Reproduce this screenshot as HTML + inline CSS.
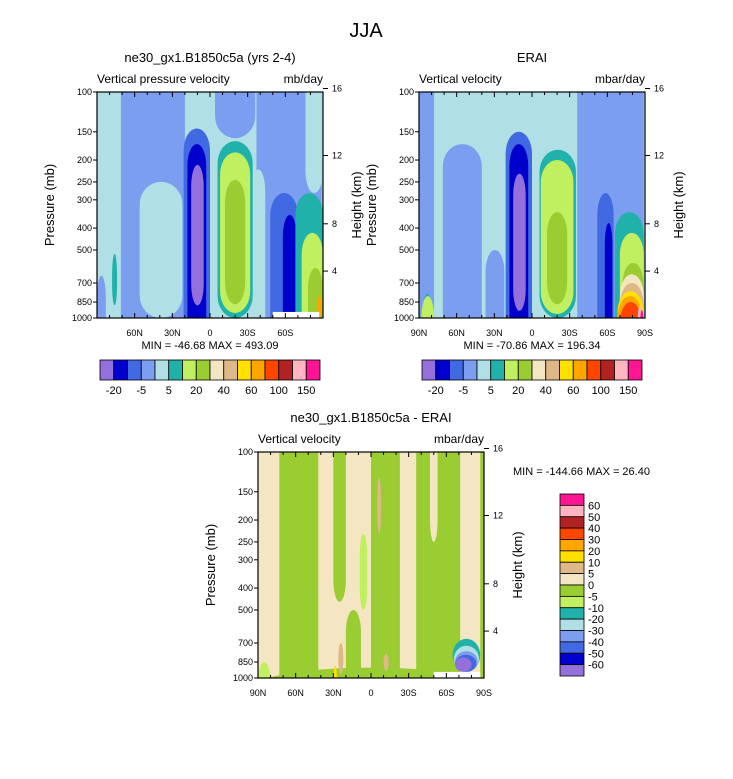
<!DOCTYPE html>
<html><head><meta charset="utf-8">
<style>
body{margin:0;background:#fff;}
svg text{font-family:"Liberation Sans",sans-serif;fill:#000;}
</style></head>
<body>
<svg id="fig" width="733" height="774" viewBox="0 0 733 774" xmlns="http://www.w3.org/2000/svg">
<text x="366" y="37" font-size="20" text-anchor="middle">JJA</text>
<g id="p1"></g>
<g id="p2"></g>
<g id="p3"></g>
</svg>
<script>
// colour palettes (level index -> colour)
const fullColors = ["#9370db","#0000cd","#4169e1","#7b9ef0","#b0e0e6","#20b2aa","#c0f060","#9acd32","#f5e6c3","#deb887","#ffe000","#ffa500","#ff4500","#b22222","#ffb6c1","#ff1493"];
const topCbLabels = ["-20","-5","5","20","40","60","100","150"];
const diffCbLabels = ["60","50","40","30","20","10","5","0","-5","-10","-20","-30","-40","-50","-60"];
const pTicks = [100,150,200,250,300,400,500,700,850,1000];
const hTicks = [16,12,8,4];
const hTickP = [96.5,191,383,620]; // pressure at each height tick
const latTicks = [90,60,30,0,-30,-60,-90];
const latTickLabels = ["90N","60N","30N","0","30S","60S","90S"];

// features: lat north, lat south, top pressure, bottom pressure, level
const m_lat1 = [71,56,64,78,90, 21,18,15, -4,-37,-76,-33, -6,-8,-12, -48,-58, -68,-73,-78,-85,-50];
const m_lat2 = [20,22,60,74,83, 0,3,5, -36,-89,-90,-44, -34,-32,-28, -70,-69, -90,-90,-90,-89,-87];
const m_ptop = [60,250,350,520,650, 145,170,210, 60,60,60,220, 165,185,245, 280,350, 280,420,600,800,940];
const m_pbot = [1300,1000,900,880,1300, 1300,1300,880, 160,1300,280,1300, 1000,950,870, 1300,1300, 1300,1300,1300,1000,1300];
const m_lev = [3,4,3,5,3, 2,1,0, 3,3,4,4, 5,6,7, 2,1, 5,6,7,11,-1];

const e_lat1 = [90,71,37, 21,18,15, -6,-7,-12, -36,-52,-58, -66,-70,-72,-70,-70,-68,-68,-70,-84,-86, 87,88];
const e_lat2 = [78,40,22, 0,3,5, -35,-33,-28, -89,-65,-64, -89,-89,-89,-89,-89,-89,-88,-87,-88,-89, 80,78];
const e_ptop = [60,170,500, 150,170,230, 180,200,340, 60,280,380, 340,420,570,640,700,760,800,850,880,920, 780,800];
const e_pbot = [1300,1300,1300, 1300,1300,930, 1000,960,870, 1300,1300,1300, 1300,1300,1300,1300,1300,1300,1300,1300,1300,1300, 1300,1300];
const e_lev = [3,3,3, 2,1,0, 5,6,7, 3,2,1, 5,6,7,8,9,10,11,12,14,15, 5,6];

const d_lat1 = [73,30,20,0,-36,-47,-87,90,90, -5,26,-10,30,9, -65,-66,-67,-67,-67,-50];
const d_lat2 = [42,20,8,-23,-71,-53,-90,-90,80, -8,22,-14,27,3, -87,-86,-85,-84,-80,-87];
const d_ptop = [60,60,500,60,60,60,60,900,850, 130,700,780,880,230, 670,720,760,790,810,940];
const d_pbot = [1300,460,1300,1300,1300,250,1300,1300,1300, 230,960,930,1300,500, 940,940,940,940,940,1300];
const d_lev = [7,7,7,7,7,8,7,7,6, 9,9,9,10,6, 5,4,3,2,0,-1];

const NS = "http://www.w3.org/2000/svg";
function mk(parent, tag, attrs){const e=document.createElementNS(NS,tag);for(const k in attrs)e.setAttribute(k,attrs[k]);parent.appendChild(e);return e;}

function panel(g, o){
  const x0=o.x0,x1=o.x1,y0=o.y0,y1=o.y1;
  const xs = lat => x0 + (90-lat)/180*(x1-x0);
  const ys = p => y0 + Math.log(p/100)/Math.log(10)*(y1-y0);
  const cid = "clip"+o.id;
  const cp = mk(g,"clipPath",{id:cid});
  mk(cp,"rect",{x:x0,y:y0,width:x1-x0,height:y1-y0});
  const plot = mk(g,"g",{"clip-path":"url(#"+cid+")"});
  
  
  const bg = mk(plot,"rect",{x:x0,y:y0,width:x1-x0,height:y1-y0,fill:o.base});
  
  
  for(let i=0;i<o.lev.length;i++){
    const xa=xs(o.lat1[i]), xb=xs(o.lat2[i]), ya=ys(o.ptop[i]), yb=ys(o.pbot[i]);
    const w=xb-xa, h=yb-ya;
    const col = o.lev[i]<0 ? "#ffffff" : fullColors[o.lev[i]];
    const r = mk(plot,"rect",{x:xa,y:ya,width:w,height:h,rx:o.lev[i]<0?0:w/2,ry:o.lev[i]<0?0:Math.min(h/2,22),fill:col});
    
    
  }
  mk(g,"rect",{x:x0,y:y0,width:x1-x0,height:y1-y0,fill:"none",stroke:"#000","stroke-width":1.2});
  for(let l=-90;l<=90;l+=10){
    const x=xs(l), len = (l%30===0)?5:3;
    mk(g,"line",{x1:x,x2:x,y1:y0,y2:y0+len,stroke:"#000"});
    mk(g,"line",{x1:x,x2:x,y1:y1,y2:y1-len,stroke:"#000"});
  }
  for(let i=0;i<latTicks.length;i++){
    if(!o.showEnds && (i===0||i===latTicks.length-1)) continue;
    const t=mk(g,"text",{x:xs(latTicks[i]),y:y1+18,"font-size":9,"text-anchor":"middle"});
    t.textContent=latTickLabels[i];
    
    
  }
  for(const p of pTicks){
    const y=ys(p);
    mk(g,"line",{x1:x0-4,x2:x0,y1:y,y2:y,stroke:"#000"});
    const t=mk(g,"text",{x:x0-5,y:y+3,"font-size":9,"text-anchor":"end"});
    t.textContent=p;
    
    
  }
  for(let i=0;i<hTicks.length;i++){
    const y=ys(hTickP[i]);
    mk(g,"line",{x1:x1,x2:x1+5,y1:y,y2:y,stroke:"#000"});
    const t=mk(g,"text",{x:x1+9,y:y+3,"font-size":9});
    t.textContent=hTicks[i];
    
    
  }
  const cy=(y0+y1)/2;
  let t=mk(g,"text",{x:0,y:0,"font-size":13,"text-anchor":"middle",transform:`translate(${x0-43},${cy}) rotate(-90)`});
  t.textContent="Pressure (mb)";
  
  
  t=mk(g,"text",{x:0,y:0,"font-size":13,"text-anchor":"middle",transform:`translate(${x1+38},${cy}) rotate(-90)`});
  t.textContent="Height (km)";
  
  
  t=mk(g,"text",{x:(x0+x1)/2,y:y0-30,"font-size":13,"text-anchor":"middle"});
  t.textContent=o.title;
  
  
  t=mk(g,"text",{x:x0,y:y0-9,"font-size":12});
  t.textContent=o.left;
  
  
  t=mk(g,"text",{x:x1,y:y0-9,"font-size":12,"text-anchor":"end"});
  t.textContent=o.units;
  
  
  t=mk(g,"text",{x:o.mmx,y:o.mmy,"font-size":11,"text-anchor":o.mmAnchor});
  t.textContent=o.minmax;
  
  
}

function hbar(g,x0,y0,w,h){
  const n=fullColors.length, bw=w/n;
  for(let i=0;i<n;i++){
    const r=mk(g,"rect",{x:x0+i*bw,y:y0,width:bw,height:h,fill:fullColors[i],stroke:"#000","stroke-width":0.8});
    
    
  }
  for(let i=0;i<topCbLabels.length;i++){
    const t=mk(g,"text",{x:x0+(i+0.5)*w/topCbLabels.length,y:y0+h+14,"font-size":11,"text-anchor":"middle"});
    t.textContent=topCbLabels[i];
    
    
  }
}
function vbar(g,x0,y0,w,h){
  const n=fullColors.length, bh=h/n;
  for(let i=0;i<n;i++){
    const r=mk(g,"rect",{x:x0,y:y0+i*bh,width:w,height:bh,fill:fullColors[n-1-i],stroke:"#000","stroke-width":0.8});
    
    
  }
  for(let i=0;i<diffCbLabels.length;i++){
    const t=mk(g,"text",{x:x0+w+4,y:y0+(i+1)*bh+4,"font-size":11});
    t.textContent=diffCbLabels[i];
    
    
  }
}

const g1=document.getElementById("p1"), g2=document.getElementById("p2"), g3=document.getElementById("p3");
panel(g1,{id:1,x0:97,x1:323,y0:92,y1:318,base:"#b0e0e6",lat1:m_lat1,lat2:m_lat2,ptop:m_ptop,pbot:m_pbot,lev:m_lev,showEnds:false,
  title:"ne30_gx1.B1850c5a (yrs 2-4)",left:"Vertical pressure velocity",units:"mb/day",minmax:"MIN = -46.68  MAX = 493.09",mmx:210,mmy:349,mmAnchor:"middle"});
hbar(g1,100,360,220,20);
panel(g2,{id:2,x0:419,x1:645,y0:92,y1:318,base:"#b0e0e6",lat1:e_lat1,lat2:e_lat2,ptop:e_ptop,pbot:e_pbot,lev:e_lev,showEnds:true,
  title:"ERAI",left:"Vertical velocity",units:"mbar/day",minmax:"MIN = -70.86  MAX = 196.34",mmx:532,mmy:349,mmAnchor:"middle"});
hbar(g2,422,360,220,20);
panel(g3,{id:3,x0:258,x1:484,y0:452,y1:678,base:"#f5e6c3",lat1:d_lat1,lat2:d_lat2,ptop:d_ptop,pbot:d_pbot,lev:d_lev,showEnds:true,
  title:"ne30_gx1.B1850c5a - ERAI",left:"Vertical velocity",units:"mbar/day",minmax:"MIN = -144.66  MAX =  26.40",mmx:513,mmy:475,mmAnchor:"start"});
vbar(g3,560,494,24,182);
</script>
</body></html>
